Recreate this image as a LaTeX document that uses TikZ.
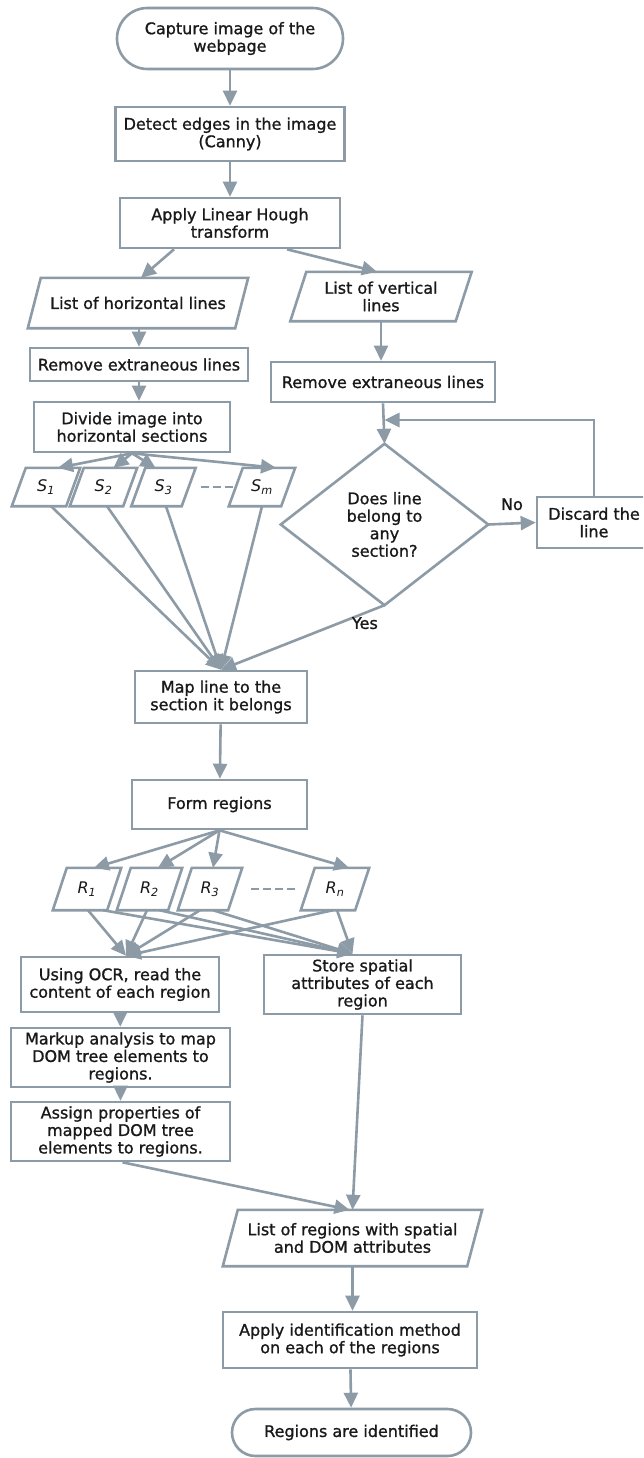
\documentclass[tikz,border=0pt]{standalone}
\usepackage{fontspec}
\setmainfont{DejaVu Sans}[BoldFont=DejaVu Sans, BoldFeatures={FakeBold=1.1}]
\usetikzlibrary{arrows.meta,calc}
\definecolor{flow}{RGB}{140,155,166}
\definecolor{ink}{RGB}{25,25,25}
\tikzset{
  txt/.style={align=center, inner sep=0pt, text=ink, font=\fontsize{16}{17.5}\selectfont\bfseries},
  procbox/.style={txt, draw=flow, line width=2.6pt, rectangle},
  termbox/.style={procbox, rounded corners=#1},
  slanted/.style={txt, rectangle},
  link/.style={draw=flow, line width=2.6pt, -{Triangle[length=15pt,width=14pt]}},
  plainline/.style={draw=flow, line width=2.6pt, line join=miter},
  gap/.style={draw=flow, line width=2.6pt, dash pattern=on 8pt off 4pt},
}
% outline of a slanted input/output box around a node
\newcommand\slantbox[2]{%
  \draw[plainline] ([xshift=-#2pt]#1.south west) -- ([xshift=#2pt]#1.north west)
    -- ([xshift=#2pt]#1.north east) -- ([xshift=-#2pt]#1.south east) -- cycle;}
\begin{document}
\begin{tikzpicture}[x=1pt,y=-1pt]
\useasboundingbox (0,0) rectangle (643,1458);
\clip (0,0) rectangle (643,1458);
\fill[white] (0,0) rectangle (643,1458);

% main column
\node[termbox=30.5pt, minimum width=226pt, minimum height=61pt] (start) at (230,38.5) {Capture image of the\\webpage};
\node[procbox, minimum width=229pt, minimum height=54pt] (detect) at (230,134) {Detect edges in the image\\(Canny)};
\node[procbox, minimum width=220pt, minimum height=50pt] (apply) at (230,223) {Apply Linear Hough\\transform};

% horizontal branch
\node[slanted, minimum width=207pt, minimum height=50pt] (listh) at (138,303) {List of horizontal lines};
\slantbox{listh}{6.5}
\node[procbox, minimum width=218pt, minimum height=33pt] (remh) at (139,364.5) {Remove extraneous lines};
\node[procbox, minimum width=196pt, minimum height=50pt] (divide) at (132,427) {Divide image into\\horizontal sections};

% sections
\node[slanted, minimum width=54pt, minimum height=38pt] (s1) at (46,487) {\itshape S\textsubscript{1}};
\node[slanted, minimum width=53pt, minimum height=38pt] (s2) at (103.5,487) {\itshape S\textsubscript{2}};
\node[slanted, minimum width=50pt, minimum height=38pt] (s3) at (163.5,487) {\itshape S\textsubscript{3}};
\node[slanted, minimum width=52pt, minimum height=38pt] (sm) at (262,487) {\itshape S\textsubscript{m}};
\foreach \n in {s1,s2,s3,sm} {\slantbox{\n}{7}}
\draw[gap, shorten <=12pt, shorten >=2pt] (s3.east) -- (sm.west);

% vertical branch
\node[slanted, minimum width=165pt, minimum height=49pt] (listv) at (381,296.5) {List of vertical\\lines};
\slantbox{listv}{8}
\node[procbox, minimum width=224pt, minimum height=40pt] (remv) at (383,382) {Remove extraneous lines};
\node[txt, minimum width=207pt, minimum height=161pt] (belong) at (384.5,524.5) {Does line\\belong to\\any\\section?};
\draw[plainline] (belong.north) -- (belong.east) -- (belong.south) -- (belong.west) -- cycle;
\node[procbox, minimum width=114pt, minimum height=51pt] (discard) at (594,522.5) {Discard the\\line};
\coordinate (rejoin) at (384.5,420);

% mapping and regions
\node[procbox, minimum width=172pt, minimum height=52pt] (map) at (221,697) {Map line to the\\section it belongs};
\node[procbox, minimum width=175pt, minimum height=49pt] (form) at (219.5,804.5) {Form regions};
\node[slanted, minimum width=54pt, minimum height=42pt] (r1) at (87,889) {\itshape R\textsubscript{1}};
\node[slanted, minimum width=51pt, minimum height=42pt] (r2) at (149.5,889) {\itshape R\textsubscript{2}};
\node[slanted, minimum width=50pt, minimum height=42pt] (r3) at (210,889) {\itshape R\textsubscript{3}};
\node[slanted, minimum width=54pt, minimum height=42pt] (rn) at (335,889) {\itshape R\textsubscript{n}};
\foreach \n in {r1,r2,r3,rn} {\slantbox{\n}{7}}
\draw[gap, shorten <=16pt, shorten >=12pt] (r3.east) -- (rn.west);

\node[procbox, minimum width=198pt, minimum height=55pt] (ocr) at (120,984.5) {Using OCR, read the\\content of each region};
\node[procbox, minimum width=197pt, minimum height=59pt] (store) at (362.5,984.5) {Store spatial\\attributes of each\\region};
\node[procbox, minimum width=219pt, minimum height=59pt] (markup) at (120.5,1057.5) {Markup analysis to map\\DOM tree elements to\\regions.};
\node[procbox, minimum width=219pt, minimum height=59pt] (assign) at (120.5,1131.5) {Assign properties of\\mapped DOM tree\\elements to regions.};
\node[slanted, minimum width=244pt, minimum height=56pt] (listr) at (352.5,1238) {List of regions with spatial\\and DOM attributes};
\slantbox{listr}{7.5}
\node[procbox, minimum width=254pt, minimum height=56pt] (ident) at (350,1340) {Apply identification method\\on each of the regions};
\node[termbox=23.5pt, minimum width=239pt, minimum height=47pt] (finish) at (351.5,1432.5) {Regions are identified};

% connectors: top part
\draw[link] (start) -- (detect);
\draw[link] (detect) -- (apply);
\draw[link] ([xshift=-56pt]apply.south) -- ([xshift=3pt]listh.north);
\draw[link] ([xshift=57pt]apply.south) -- ([xshift=-4pt]listv.north);
\draw[link] ([xshift=1pt]listh.south) -- (remh.north);
\draw[link] (remh.south) -- (remh.south |- divide.north);
\draw[link] (divide.south) -- ([xshift=12pt]s1.north);
\draw[link] (divide.south) -- ([xshift=10pt]s2.north);
\draw[link] (divide.south) -- ([xshift=-8pt]s3.north);
\draw[link] (divide.south) -- ([xshift=14pt]sm.north);
\draw[link] (listv.south) -- (listv.south |- remv.north);
\draw[link] (remv.south) -- (belong.north);
\draw[link] (discard.north) |- (rejoin);
\draw[link] (belong.east) -- node[txt, above=12pt] (no) {No} (discard.west);

% sections converge on the mapping step
\draw[link] ([xshift=5pt]s1.south) -- (map.north);
\draw[link] ([xshift=3.5pt]s2.south) -- (map.north);
\draw[link] ([xshift=2.5pt]s3.south) -- (map.north);
\draw[link] (sm.south) -- (map.north);
\draw[link] (belong.south) -- node[txt, pos=0.12, below=3pt] (yes) {Yes} (map.north);
\draw[link] (map) -- (form);

% regions
\draw[link] (form.south) -- ([xshift=7pt]r1.north);
\draw[link] (form.south) -- ([xshift=8.5pt]r2.north);
\draw[link] (form.south) -- ([xshift=3pt]r3.north);
\draw[link] (form.south) -- ([xshift=14pt]rn.north);
\coordinate (ocrin) at ($(ocr.north)+(6,0)$);
\coordinate (storein) at ($(store.north)+(-10,0)$);
\draw[link] ([xshift=1pt]r1.south) -- (ocrin);
\draw[link] ([xshift=16pt]r1.south) -- (storein);
\draw[link] ([xshift=-2.5pt]r2.south) -- (ocrin);
\draw[link] ([xshift=10pt]r2.south) -- (storein);
\draw[link] ([xshift=-10pt]r3.south) -- (ocrin);
\draw[link] ([xshift=3pt]r3.south) -- (storein);
\draw[link] ([xshift=-2pt]rn.south) -- (ocrin);
\draw[link] ([xshift=2pt]rn.south) -- (storein);

% final part
\draw[link] (ocr) -- (markup);
\draw[link] (markup) -- (assign);
\draw[link] ([xshift=2pt]assign.south) -- ([xshift=-3pt]listr.north);
\draw[link] (store.south) -- (listr.north);
\draw[link] (listr.south) -- (listr.south |- ident.north);
\draw[link] (ident) -- (finish);
\end{tikzpicture}
\end{document}
